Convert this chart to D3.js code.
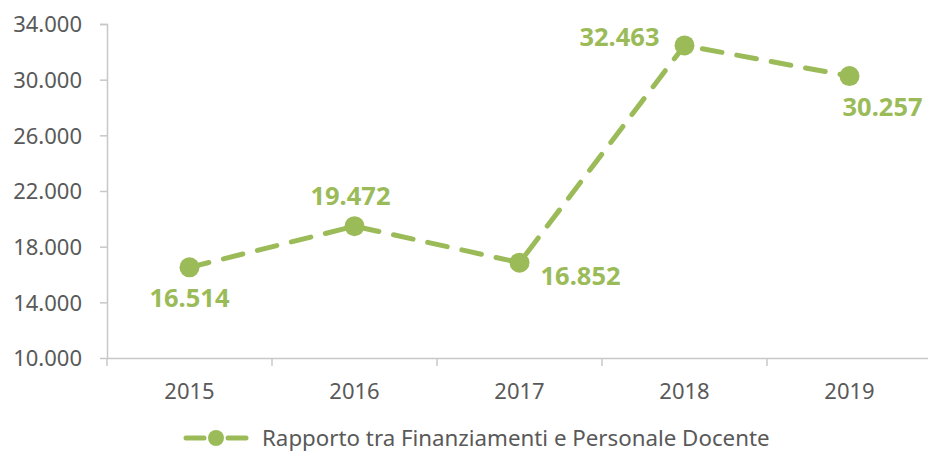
<!DOCTYPE html>
<html><head><meta charset="utf-8">
<script src="https://cdn.jsdelivr.net/npm/d3@7"></script>
<style>body{margin:0;background:#fff}svg{display:block}text{font-family:"Noto Sans",sans-serif}</style>
</head><body><svg id="c" width="928" height="453"></svg>
<script>
const years = ["2015","2016","2017","2018","2019"];
const values = [16514, 19472, 16852, 32463, 30257];
const yTicks = [10000,14000,18000,22000,26000,30000,34000];
const seriesName = "Rapporto tra Finanziamenti e Personale Docente";
// label placement: [anchor, dx, dy] relative to point
const labelPos = [["middle",0,31],["middle",-4,-30],["start",21,13],["end",-25,-8],["start",-7,31]];

const green = "#9BBB59", grey = "#595959", axisC = "#C8C8C8";
const svg = d3.select("#c");
const x = d3.scaleBand().domain(years).range([107, 932]);
const y = d3.scaleLinear().domain([10000, 34000]).range([358, 24]);
const fmt = v => d3.format(",")(v).replace(/,/g, ".");

// y axis
const ya = svg.append("g").attr("transform","translate(107,0)")
  .call(d3.axisLeft(y).tickValues(yTicks).tickSize(7).tickFormat(fmt));
ya.select(".domain").attr("stroke",axisC).attr("stroke-width",1.5).attr("d","M-7,24.5H0.5V358.5");
ya.selectAll(".tick line").attr("stroke",axisC).attr("stroke-width",1.5);
ya.selectAll(".tick text").attr("fill",grey).style("font-size","22px").attr("x",-25).attr("dy","0.35em");

// x axis
const xa = svg.append("g").attr("transform","translate(0,358.5)")
  .call(d3.axisBottom(x).tickSize(0).tickFormat(d=>d));
xa.select(".domain").attr("stroke",axisC).attr("stroke-width",1.5).attr("d","M107,0H928");
xa.selectAll(".tick text").attr("fill",grey).style("font-size","22px").attr("dy","1.7em");
svg.append("g").selectAll("line").data(years)
  .join("line")
  .attr("x1",(d,i)=>107+x.step()*i).attr("x2",(d,i)=>107+x.step()*i)
  .attr("y1",358.5).attr("y2",366).attr("stroke",axisC).attr("stroke-width",1.5);

const cx = d => x(d) + x.bandwidth()/2;
const line = d3.line().x((d,i)=>cx(years[i])).y(d=>y(d));
svg.append("path").datum(values).attr("d",line).attr("fill","none")
  .attr("stroke",green).attr("stroke-width",5).attr("stroke-dasharray","20,15").attr("stroke-linecap","round");
svg.append("g").selectAll("circle").data(values).join("circle")
  .attr("cx",(d,i)=>cx(years[i])).attr("cy",d=>y(d)).attr("r",10).attr("fill",green);
svg.append("g").selectAll("text").data(values).join("text")
  .attr("x",(d,i)=>cx(years[i])+labelPos[i][1]).attr("y",(d,i)=>y(d)+labelPos[i][2])
  .attr("text-anchor",(d,i)=>labelPos[i][0]).attr("dy","0.35em")
  .attr("fill",green).style("font-size","25.5px").style("font-weight","bold").text(fmt);

// legend
const lg = svg.append("g").attr("transform","translate(0,438)");
lg.selectAll("line").data([[186,204],[228,246]]).join("line")
  .attr("x1",d=>d[0]).attr("x2",d=>d[1]).attr("y1",0).attr("y2",0)
  .attr("stroke",green).attr("stroke-width",5).attr("stroke-linecap","round");
lg.append("circle").attr("cx",216).attr("cy",0).attr("r",8).attr("fill",green);
lg.append("text").attr("x",262).attr("y",0).attr("dy","0.35em").attr("fill",grey)
  .style("font-size","22.3px").text(seriesName);
</script></body></html>
